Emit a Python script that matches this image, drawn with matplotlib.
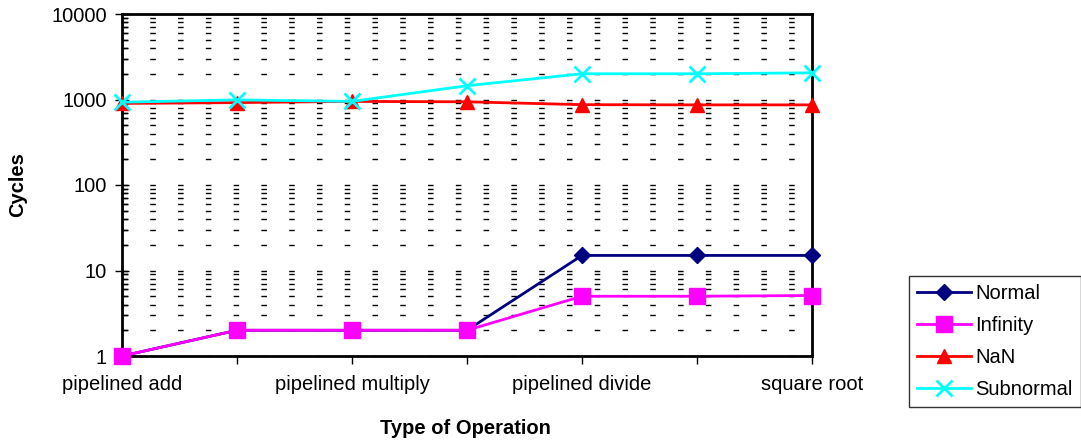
import matplotlib
matplotlib.use("Agg")
import matplotlib.pyplot as plt
from matplotlib.ticker import LogLocator, FixedLocator, NullFormatter

categories = ["pipelined add", "", "pipelined multiply", "", "pipelined divide", "", "square root"]
normal = [1, 2, 2, 2, 15, 15, 15]
infinity = [1, 2, 2, 2, 5, 5, 5.1]
nan_vals = [900, 920, 950, 940, 870, 865, 865]
subnormal = [930, 990, 950, 1450, 2000, 2000, 2050]

plt.rcParams['font.family'] = ['Liberation Sans', 'DejaVu Sans']

fig = plt.figure(figsize=(10.81, 4.45), dpi=100)
ax = fig.add_axes([122/1081, 89/445, 690/1081, 342/445])

x = list(range(len(categories)))
ax.plot(x, normal, color='#000080', marker='D', markersize=8, lw=2, label='Normal', clip_on=False, zorder=3)
ax.plot(x, infinity, color='#FF00FF', marker='s', markersize=11, lw=2, label='Infinity', clip_on=False, zorder=4)
ax.plot(x, nan_vals, color='#FF0000', marker='^', markersize=10, lw=2, label='NaN', clip_on=False, zorder=5)
ax.plot(x, subnormal, color='#00FFFF', marker='x', markersize=11, mew=2, lw=2, label='Subnormal', clip_on=False, zorder=6)

ax.set_yscale('log')
ax.set_ylim(1, 10000)
ax.set_xlim(0, 6)
ax.yaxis.set_major_locator(FixedLocator([1, 10, 100, 1000, 10000]))
ax.set_yticklabels(['1', '10', '100', '1000', '10000'])
ax.yaxis.set_minor_locator(LogLocator(base=10, subs=range(2, 10)))
ax.yaxis.set_minor_formatter(NullFormatter())
ax.set_xticks(x)
ax.set_xticklabels(categories)

ax.grid(True, which='both', axis='y', color='black', linestyle=(0, (4, 16)), lw=1)
ax.grid(False, axis='x')
ax.set_axisbelow(True)

for s in ax.spines.values():
    s.set_linewidth(2)
ax.tick_params(axis='y', which='major', direction='inout', length=10, width=1, labelsize=14.5, pad=6)
ax.tick_params(axis='x', which='major', direction='out', length=6, width=1, labelsize=14.5, pad=8)
ax.tick_params(axis='y', which='minor', direction='in', length=4, width=1)

ax.set_ylabel('Cycles', fontsize=14.5, fontweight='bold')
ax.set_xlabel('Type of Operation', fontsize=14.5, fontweight='bold')
ax.yaxis.set_label_coords((27 - 122) / 690, 0.5)
ax.xaxis.set_label_coords((465 - 122) / 690, (356 - 419) / 342)

leg = fig.legend(loc='upper left', bbox_to_anchor=(909/1081, 1 - 276/445), fontsize=14.5,
                 frameon=True, fancybox=False, edgecolor='black', handlelength=2.7,
                 borderpad=0.4, labelspacing=0.65, handletextpad=0.2, borderaxespad=0)
leg.get_frame().set_linewidth(1)

fig.savefig('out.png', dpi=100)
